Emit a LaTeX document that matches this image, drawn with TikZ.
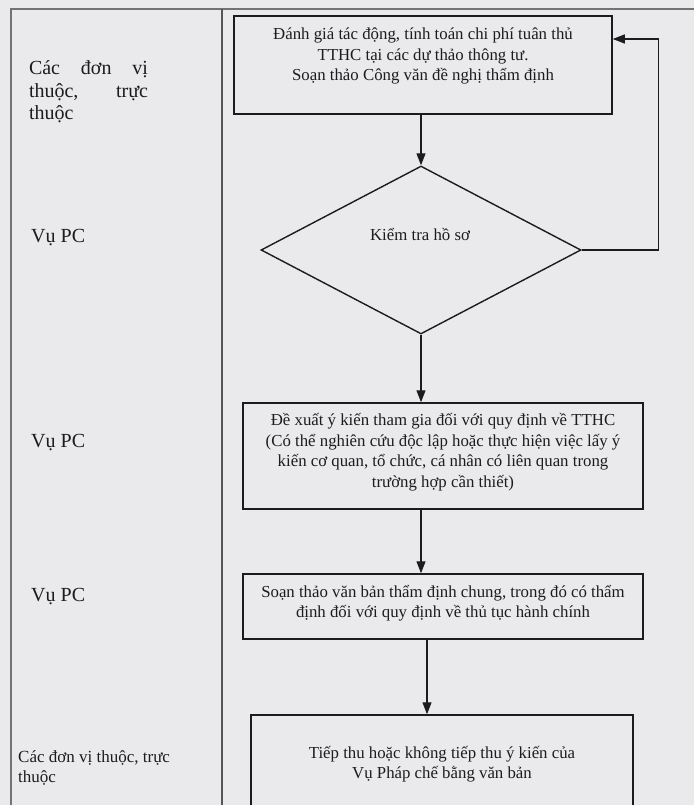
\documentclass[tikz,border=0pt]{standalone}
\usepackage{fontspec}
\setmainfont{Liberation Serif}
\usetikzlibrary{shapes.geometric,arrows.meta}
\definecolor{paper}{RGB}{234,234,236}
\definecolor{ink}{RGB}{28,28,28}
\definecolor{rule}{RGB}{115,115,115}
\begin{document}
\begin{tikzpicture}[x=1pt,y=-1pt,
  stepbox/.style={draw=ink, line width=1.5pt, rectangle, inner sep=0pt},
  checkbox/.style={draw=ink, line width=1.4pt, diamond, inner sep=0pt},
  boxtext/.style={text=ink, align=center, font=\fontsize{16.8}{20.5}\selectfont, inner sep=0pt},
  lanetext/.style={text=ink, align=left, font=\fontsize{20}{22.5}\selectfont, inner sep=0pt},
  smalllane/.style={text=ink, align=left, font=\fontsize{17}{19.5}\selectfont, inner sep=0pt},
  arr/.style={draw=ink, line width=1.2pt, -{Triangle[length=12pt,width=9pt]}},
  frameline/.style={draw=rule, line width=1.4pt}]
% page
\path[use as bounding box, fill=paper] (0,0) rectangle (694,805);
\clip (0,0) rectangle (694,805);

% lane frame and divider
\draw[frameline] (11,805) -- (11,9) -- (694,9);
\draw[frameline, draw=rule!75!black] (222,9) -- (222,805);

% lane labels
\node[lanetext, text width=119pt] (lane1) at (88.5,92)
  {\makebox[119pt]{Các\hfill đơn\hfill vị}\\\makebox[119pt]{thuộc,\hfill trực}\\thuộc};
\node[lanetext, anchor=west] (lane2) at (31,238) {Vụ PC};
\node[lanetext, anchor=west] (lane3) at (31,443) {Vụ PC};
\node[lanetext, anchor=west] (lane4) at (31,597) {Vụ PC};
\node[smalllane, anchor=west] (lane5) at (18,768) {Các đơn vị thuộc, trực\\thuộc};

% steps
\node[stepbox, minimum width=378pt, minimum height=98pt] (b1) at (423,65) {};
\node[boxtext] (t1) at (423,56)
  {Đánh giá tác động, tính toán chi phí tuân thủ\\TTHC tại các dự thảo thông tư.\\Soạn thảo Công văn đề nghị thẩm định};

\node[checkbox, minimum width=320pt, minimum height=168pt] (dia) at (421,250) {};
\node[boxtext] (t2) at (420,234) {Kiểm tra hồ sơ};

\node[stepbox, minimum width=400pt, minimum height=106pt] (b3) at (443,456) {};
\node[boxtext] (t3) at (443,452)
  {Đề xuất ý kiến tham gia đối với quy định về TTHC\\(Có thể nghiên cứu độc lập hoặc thực hiện việc lấy ý\\kiến cơ quan, tổ chức, cá nhân có liên quan trong\\trường hợp cần thiết)};

\node[stepbox, minimum width=400pt, minimum height=65pt] (b4) at (443,606.5) {};
\node[boxtext] (t4) at (443,603)
  {Soạn thảo văn bản thẩm định chung, trong đó có thẩm\\định đối với quy định về thủ tục hành chính};

\node[stepbox, minimum width=382pt, minimum height=130pt] (b5) at (442,780) {};
\node[boxtext] (t5) at (442,764)
  {Tiếp thu hoặc không tiếp thu ý kiến của\\Vụ Pháp chế bằng văn bản};

% connectors
\draw[arr] (b1.south -| dia.north) -- (dia.north);
\draw[arr] (dia.east) -- ++(77,0) |- ([yshift=26pt]b1.east);
\draw[arr] (dia.south) -- (dia.south |- b3.north);
\draw[arr] (dia.south |- b3.south) -- (dia.south |- b4.north);
\draw[arr] ([xshift=-16pt]b4.south) -- ([xshift=-16pt]b4.south |- b5.north);
\end{tikzpicture}
\end{document}
